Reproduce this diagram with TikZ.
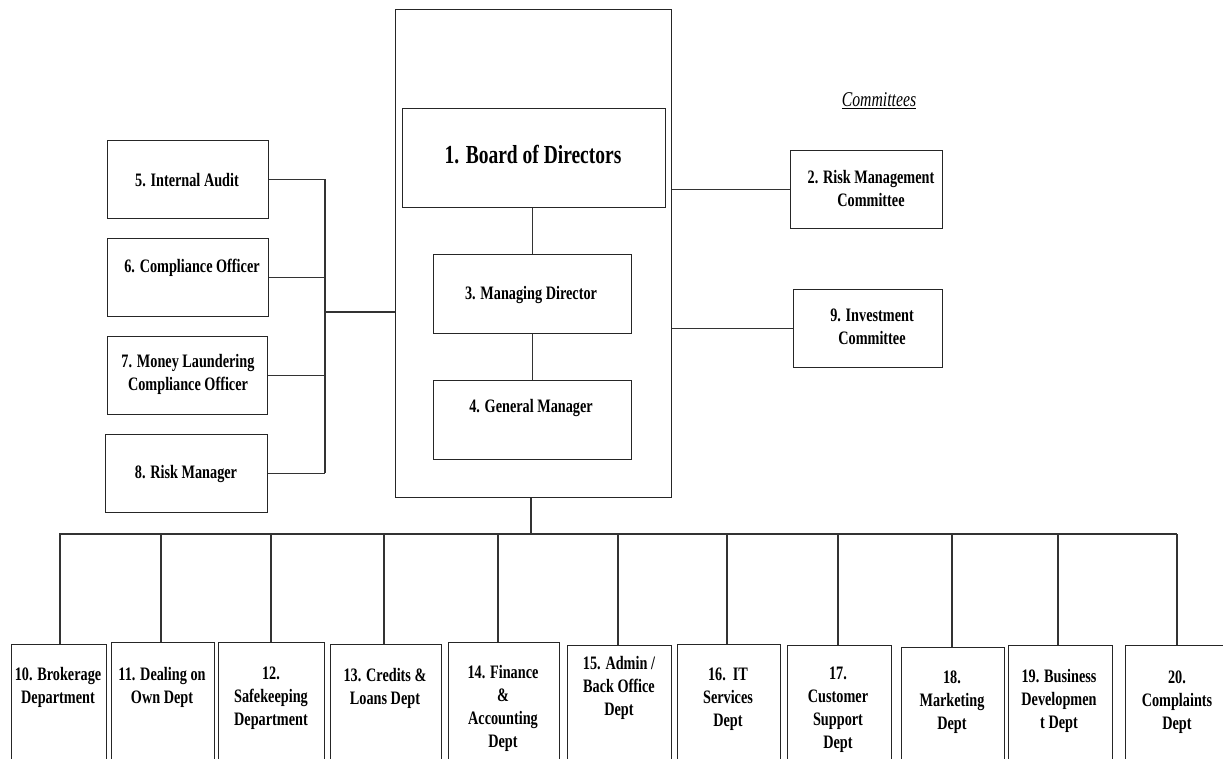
\documentclass[tikz,border=0pt]{standalone}
\usepackage{fontspec}
\setmainfont{Liberation Serif}[FakeStretch=0.75]
\newcommand\mybox[5]{\node[box,anchor=north west,minimum width={(#4)-(#2)},minimum height={(#5)-(#3)}] (#1) at (#2,#3) {};}
\begin{document}
\begin{tikzpicture}[x=1pt,y=-1pt,
  box/.style={draw=black!85, line width=1.3pt, rectangle, inner sep=0pt},
  txt/.style={align=center, font=\bfseries\fontsize{19}{23}\selectfont, inner sep=0pt, text=black},
  ln/.style={draw=black!80, line width=1.3pt}]
\clip (0,0) rectangle (1223,758);
\fill[white] (0,0) rectangle (1223,758);
% central block
\mybox{big}{395}{9}{671}{497}
\mybox{bod}{402}{108}{665}{207}
\mybox{md}{433}{254}{631}{333}
\mybox{gm}{433}{380}{631}{459}
\node[txt, font=\bfseries\fontsize{26}{30}\selectfont] (tbod) at (533,155) {1. Board of Directors};
\node[txt] (tmd) at (531,295) {3. Managing Director};
\node[txt] (tgm) at (531,408) {4. General Manager};
\draw[ln] (md.north |- bod.south) -- (md.north);
\draw[ln] (md.south) -- (gm.north);
% left side
\mybox{ia}{107}{140}{268}{218}
\mybox{co}{107}{238}{268}{316}
\mybox{ml}{107}{336}{267}{414}
\mybox{rm}{105}{434}{267}{512}
\node[txt] (tia) at (187,180) {5. Internal Audit};
\node[txt] (tco) at (192,268) {6. Compliance Officer};
\node[txt] (tml) at (188,374) {7. Money Laundering\\Compliance Officer};
\node[txt] (trm) at (186,474) {8. Risk Manager};
\coordinate (lb1) at (325,179);
\coordinate (lb4) at (325,473);
\coordinate (lbus) at (325,312);
\draw[ln] (ia.east) -- (ia.east -| lb1);
\draw[ln] (co.east) -- (co.east -| lb1);
\draw[ln] (ml.east) -- (ml.east -| lb1);
\draw[ln] (rm.east) -- (rm.east -| lb1);
\draw[ln] (lb1) -- (lb4);
\draw[ln] (lbus) -- (lbus -| big.west);
% committees
\node[font=\itshape\fontsize{21}{25}\selectfont, inner sep=0pt] (ctitle) at (879,101) {\underline{Committees}};
\mybox{rmc}{790}{150}{942}{228}
\mybox{ic}{793}{289}{942}{367}
\node[txt] (trmc) at (871,188) {2. Risk Management\\Committee};
\node[txt] (tic) at (872,327) {9. Investment\\Committee};
\draw[ln] (rmc.west) -- (rmc.west -| big.east);
\draw[ln] (ic.west) -- (ic.west -| big.east);
% departments
\mybox{d10}{11}{644}{106}{780}
\mybox{d11}{111}{642}{214}{780}
\mybox{d12}{218}{642}{324}{780}
\mybox{d13}{330}{644}{441}{780}
\mybox{d14}{448}{642}{559}{780}
\mybox{d15}{567}{645}{671}{780}
\mybox{d16}{677}{644}{780}{780}
\mybox{d17}{787}{645}{891}{780}
\mybox{d18}{901}{647}{1004}{780}
\mybox{d19}{1008}{645}{1112}{780}
\mybox{d20}{1125}{645}{1240}{780}
\node[txt] (t10) at (58,687) {10. Brokerage\\Department};
\node[txt] (t11) at (162,687) {11. Dealing on\\Own Dept};
\node[txt] (t12) at (271,698) {12.\\Safekeeping\\Department};
\node[txt] (t13) at (385,688) {13. Credits \&\\Loans Dept};
\node[txt] (t14) at (503,708) {14. Finance\\\&\\Accounting\\Dept};
\node[txt] (t15) at (619,688) {15. Admin /\\Back Office\\Dept};
\node[txt] (t16) at (728,699) {16.\ \ IT\\Services\\Dept};
\node[txt] (t17) at (838,710) {17.\\Customer\\Support\\Dept};
\node[txt] (t18) at (952,702) {18.\\Marketing\\Dept};
\node[txt] (t19) at (1059,701) {19. Business\\Developmen\\t Dept};
\node[txt] (t20) at (1177,702) {20.\\Complaints\\Dept};
\coordinate (bus) at (531,534);
\draw[ln] (big.south -| bus) -- (bus);
\draw[ln] (d10.north |- bus) -- (1177,534);
\foreach \d/\x in {d10/60,d11/161,d12/271,d13/384,d14/498,d15/618,d16/727,d17/838,d18/952,d19/1058,d20/1177}
  \draw[ln] (\x,534) -- (\x,0 |- \d.north);
\end{tikzpicture}
\end{document}
